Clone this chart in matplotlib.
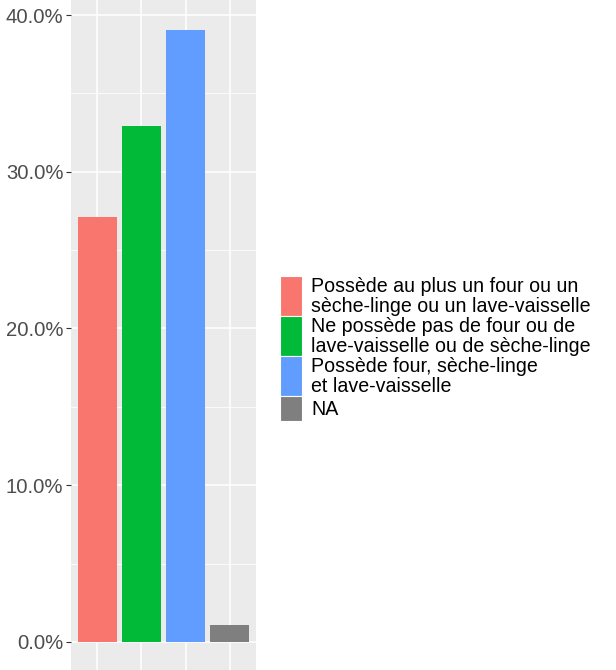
"""Bar chart: equipment ownership shares, ggplot-like style."""
import matplotlib
matplotlib.use("Agg")
import matplotlib.pyplot as plt
from matplotlib.patches import Rectangle
from matplotlib.ticker import MultipleLocator, FuncFormatter

LABELS = ["Possède au plus un four ou un\nsèche-linge ou un lave-vaisselle",
          "Ne possède pas de four ou de\nlave-vaisselle ou de sèche-linge",
          "Possède four, sèche-linge\net lave-vaisselle",
          "NA"]
SHARES = [27.1, 32.95, 39.05, 1.08]
COLORS = ["#F8766D", "#00BA38", "#619CFF", "#7F7F7F"]

PANEL = "#EBEBEB"
FONT = ["Liberation Sans", "DejaVu Sans"]


def main():
    plt.rcParams["font.family"] = FONT
    fig = plt.figure(figsize=(6.16, 6.70), dpi=100)
    ax = fig.add_axes([71 / 616, 0, (256 - 71) / 616, 1])
    ax.set_facecolor(PANEL)
    xs = range(1, len(SHARES) + 1)
    ax.bar(xs, SHARES, width=0.9, color=COLORS, zorder=3)
    ax.set_xlim(0.4, 4.6)
    ax.set_ylim(-1.79, 40.96)
    ax.yaxis.set_major_locator(MultipleLocator(10))
    ax.yaxis.set_minor_locator(MultipleLocator(5))
    ax.yaxis.set_major_formatter(FuncFormatter(lambda v, p: f"{v:.1f}%"))
    ax.set_xticks(list(xs))
    ax.set_xticklabels([])
    ax.grid(which="major", color="white", linewidth=1.1, zorder=1)
    ax.grid(which="minor", axis="y", color="white", linewidth=0.55, zorder=1)
    for s in ax.spines.values():
        s.set_visible(False)
    ax.tick_params(axis="y", which="major", length=3.5, width=0.8,
                   color="#333333", labelsize=14.6, labelcolor="#4D4D4D", pad=2)
    ax.tick_params(axis="y", which="minor", length=0)
    ax.tick_params(axis="x", length=3.5, color="#333333")

    # legend drawn in pixel coordinates
    lg = fig.add_axes([0, 0, 1, 1], facecolor="none")
    lg.set_xlim(0, 616)
    lg.set_ylim(670, 0)
    lg.axis("off")
    tops = [276, 315.5, 355.5, 396]
    heights = [39.5, 40, 40.5, 24.5]
    for lab, col, t, h in zip(LABELS, COLORS, tops, heights):
        lg.add_patch(Rectangle((280, t), 22, h, facecolor=col,
                               edgecolor="white", linewidth=0.8))
        lg.text(311, t + h / 2 + 1, lab, ha="left", va="center",
                fontsize=14.1, color="black", linespacing=1.05)

    fig.savefig("out.png", dpi=100)


if __name__ == "__main__":
    main()
